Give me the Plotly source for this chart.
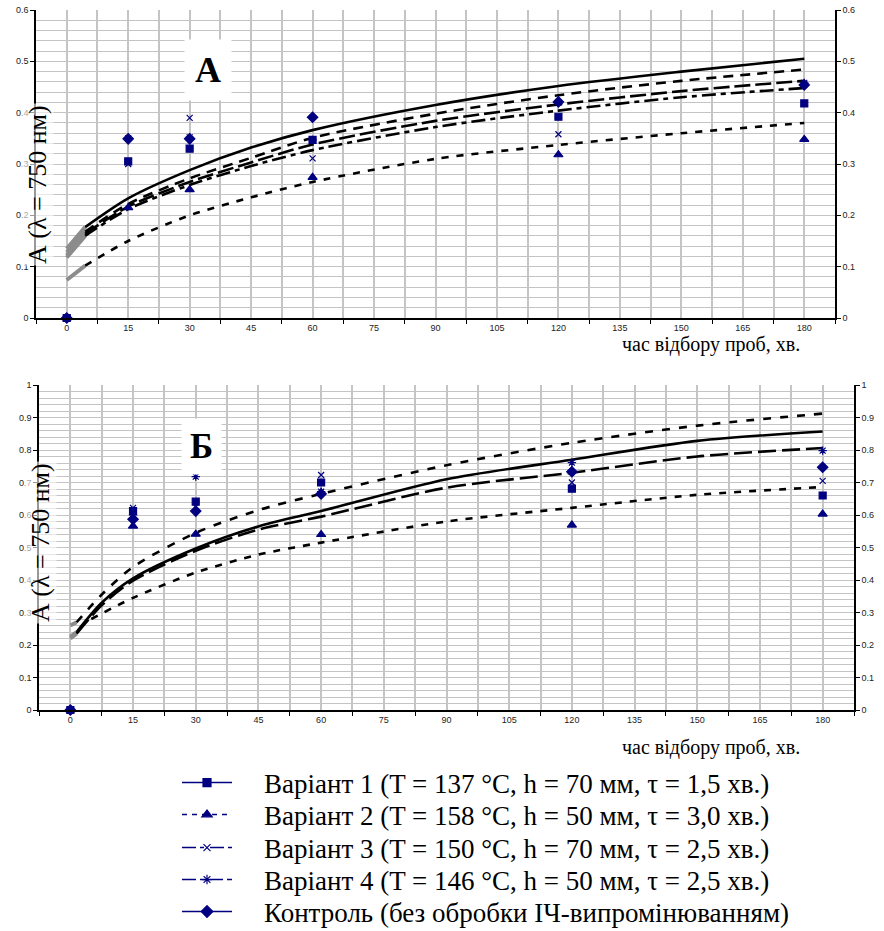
import plotly.graph_objects as go

# ---------------- data ----------------
T_SAMPLES = [0, 15, 30, 60, 120, 180]
X_TICKS = [0, 15, 30, 45, 60, 75, 90, 105, 120, 135, 150, 165, 180]

# Chart A measured points
A_V1 = [0, 0.305, 0.330, 0.347, 0.392, 0.418]
A_V2 = [0, 0.215, 0.250, 0.274, 0.318, 0.348]
A_V3 = [0, 0.300, 0.390, 0.311, 0.358, 0.455]
A_V4 = [0, 0.350, 0.352, 0.347, 0.420, 0.458]
A_CTRL = [0, 0.349, 0.349, 0.391, 0.421, 0.454]

# Chart A trend lines
A_FIT_T = [4.5, 15, 30, 45, 60, 90, 120, 150, 180]
A_FIT_CTRL = [0.177, 0.233, 0.288, 0.332, 0.366, 0.415, 0.452, 0.480, 0.505]
A_FIT_V4 = [0.168, 0.222, 0.272, 0.312, 0.351, 0.398, 0.434, 0.462, 0.484]
A_FIT_V1 = [0.164, 0.217, 0.265, 0.303, 0.338, 0.384, 0.416, 0.442, 0.462]
A_FIT_V3 = [0.160, 0.212, 0.259, 0.296, 0.327, 0.372, 0.404, 0.430, 0.448]
A_FIT_V2 = [0.102, 0.150, 0.200, 0.235, 0.265, 0.310, 0.337, 0.360, 0.380]
A_FIT_START = [0.135, 0.128, 0.122, 0.118, 0.074]  # values at t = 0 (grey part)

# Chart B measured points
B_V1 = [0, 0.612, 0.641, 0.700, 0.681, 0.660]
B_V2 = [0, 0.566, 0.541, 0.540, 0.569, 0.603]
B_V3 = [0, 0.622, 0.625, 0.723, 0.700, 0.705]
B_V4 = [0, 0.600, 0.718, 0.672, 0.761, 0.798]
B_CTRL = [0, 0.587, 0.612, 0.665, 0.733, 0.747]

# Chart B trend lines
B_FIT_T = [1.5, 7.5, 15, 30, 45, 60, 90, 120, 150, 180]
B_FIT_UP = [0.27, 0.355, 0.440, 0.545, 0.615, 0.665, 0.753, 0.822, 0.875, 0.912]
B_FIT_CTRL = [0.240, 0.330, 0.405, 0.497, 0.565, 0.612, 0.710, 0.770, 0.828, 0.857]
B_FIT_MID = [0.235, 0.322, 0.398, 0.490, 0.555, 0.595, 0.684, 0.730, 0.780, 0.806]
B_FIT_LOW_T = [5, 15, 30, 45, 60, 90, 120, 150, 180]
B_FIT_LOW = [0.280, 0.345, 0.423, 0.478, 0.515, 0.580, 0.622, 0.662, 0.686]
B_FIT_START = [0.26, 0.225, 0.22]

LEGEND_NAMES = [
    "Варіант 1 (T = 137 °C, h = 70 мм, τ = 1,5 хв.)",
    "Варіант 2 (T = 158 °C, h = 50 мм, τ = 3,0 хв.)",
    "Варіант 3 (T = 150 °C, h = 70 мм, τ = 2,5 хв.)",
    "Варіант 4 (T = 146 °C, h = 50 мм, τ = 2,5 хв.)",
    "Контроль (без обробки ІЧ-випромінюванням)",
]

# ---------------- styling ----------------
W, H = 884, 931
NAVY = "#000080"
GRID = "#c4c4c4"
SERIF = "Liberation Serif, Times New Roman, serif"
SANS = "Liberation Sans, Arial, sans-serif"

SYMBOLS = ["square", "triangle-up", "x-thin-open", "asterisk-open", "diamond"]
SIZES = [7, 8, 6, 7, 8]
LEG_DASH = ["solid", "5px,5px", "14px,4px,4px,6px", "14px,4px,5px,4px", "solid"]
LEG_ROWS = [783, 815, 848, 880, 912]  # legend row centres, px from top

fig = go.Figure()


def add_markers(vals_list, xa, ya):
    for vals, sym, sz in zip(vals_list, SYMBOLS, SIZES):
        fig.add_trace(go.Scatter(
            x=T_SAMPLES, y=vals, mode="markers", xaxis=xa, yaxis=ya,
            marker=dict(symbol=sym, size=sz, color=NAVY,
                        line=dict(color=NAVY, width=1.2)),
            cliponaxis=False, showlegend=False, hoverinfo="skip"))


def add_fit(t, vals, start, dash, xa, ya):
    fig.add_trace(go.Scatter(
        x=[0, t[0]], y=[start, vals[0]], mode="lines", xaxis=xa, yaxis=ya,
        line=dict(color="#8c8c8c", width=4), showlegend=False, hoverinfo="skip"))
    fig.add_trace(go.Scatter(
        x=t, y=vals, mode="lines", xaxis=xa, yaxis=ya,
        line=dict(color="black", width=2.6, dash=dash, shape="spline", smoothing=0.8),
        showlegend=False, hoverinfo="skip"))


# Chart A
add_fit(A_FIT_T, A_FIT_CTRL, A_FIT_START[0], "solid", "x", "y")
add_fit(A_FIT_T, A_FIT_V4, A_FIT_START[1], "10px,7px", "x", "y")
add_fit(A_FIT_T, A_FIT_V1, A_FIT_START[2], "16px,5px", "x", "y")
add_fit(A_FIT_T, A_FIT_V3, A_FIT_START[3], "14px,5px,5px,5px", "x", "y")
add_fit(A_FIT_T, A_FIT_V2, A_FIT_START[4], "7px,8px", "x", "y")
add_markers([A_V1, A_V2, A_V3, A_V4, A_CTRL], "x", "y")

# Chart B
add_fit(B_FIT_T, B_FIT_UP, B_FIT_START[0], "8px,9px", "x2", "y3")
add_fit(B_FIT_T, B_FIT_CTRL, B_FIT_START[1], "solid", "x2", "y3")
add_fit(B_FIT_T, B_FIT_MID, B_FIT_START[2], "18px,6px", "x2", "y3")
fig.add_trace(go.Scatter(
    x=B_FIT_LOW_T, y=B_FIT_LOW, mode="lines", xaxis="x2", yaxis="y3",
    line=dict(color="black", width=2.6, dash="7px,8px", shape="spline", smoothing=0.8),
    showlegend=False, hoverinfo="skip"))
add_markers([B_V1, B_V2, B_V3, B_V4, B_CTRL], "x2", "y3")

# dummy traces so right-hand axes get drawn
fig.add_trace(go.Scatter(x=[None], y=[None], xaxis="x", yaxis="y2", showlegend=False))
fig.add_trace(go.Scatter(x=[None], y=[None], xaxis="x2", yaxis="y4", showlegend=False))

# legend entries, one legend per row so rows sit exactly where the reference has them
leg_ids = ["legend", "legend2", "legend3", "legend4", "legend5"]
for i, name in enumerate(LEGEND_NAMES):
    fig.add_trace(go.Scatter(
        x=[None], y=[None], mode="lines+markers", name="\u00a0\u00a0\u00a0\u00a0" + name,
        legend=leg_ids[i],
        line=dict(color=NAVY, width=1.6, dash=LEG_DASH[i]),
        marker=dict(symbol=SYMBOLS[i], size=SIZES[i] + 1, color=NAVY,
                    line=dict(color=NAVY, width=1.2))))

# ---------------- axes ----------------
def px_x(a, b):
    return [a / W, b / W]


def px_y(top, bottom):
    return [1 - bottom / H, 1 - top / H]


between = [v + 7.5 for v in [-15] + X_TICKS]

xcommon = dict(
    range=[-7.5, 187.5], tickmode="array", tickvals=X_TICKS,
    ticktext=[str(v) for v in X_TICKS], ticks="", showgrid=True,
    gridcolor=GRID, gridwidth=2, zeroline=False, showline=True,
    linecolor="black", linewidth=1.5, automargin=False,
    tickfont=dict(family=SANS, size=9, color="#222"),
    minor=dict(tickmode="array", tickvals=between, ticks="outside", ticklen=4,
               tickcolor="black", showgrid=True, gridcolor=GRID, gridwidth=2),
)


def ycommon(rmax, side):
    return dict(
        range=[0, rmax], tick0=0, dtick=0.1, ticks="outside", ticklen=4,
        tickcolor="black", showline=True, linecolor="black", linewidth=1.5,
        zeroline=False, side=side, automargin=False,
        tickfont=dict(family=SANS, size=9, color="#222"),
    )


legend_layout = {}
for lid, row in zip(leg_ids, LEG_ROWS):
    legend_layout[lid] = dict(
        x=177 / W, y=1 - row / H, xanchor="left", yanchor="middle",
        font=dict(family=SERIF, size=27, color="black"),
        bgcolor="rgba(0,0,0,0)", itemwidth=50)

fig.update_layout(
    width=W, height=H, margin=dict(l=0, r=0, t=0, b=0, autoexpand=False),
    paper_bgcolor="white", plot_bgcolor="white",
    xaxis=dict(domain=px_x(36, 835), anchor="y", **xcommon),
    yaxis=dict(domain=px_y(10, 318), anchor="x", showgrid=True, gridcolor=GRID,
               gridwidth=1.3,
               minor=dict(dtick=0.02, showgrid=True, gridcolor=GRID, gridwidth=1.3),
               **ycommon(0.6, "left")),
    yaxis2=dict(overlaying="y", anchor="x", showgrid=False, **ycommon(0.6, "right")),
    xaxis2=dict(domain=px_x(39, 854), anchor="y3", **xcommon),
    yaxis3=dict(domain=px_y(385, 710), anchor="x2", showgrid=True, gridcolor=GRID,
                gridwidth=1.3,
                minor=dict(dtick=0.02, showgrid=True, gridcolor=GRID, gridwidth=1.3),
                **ycommon(1.0, "left")),
    yaxis4=dict(overlaying="y3", anchor="x2", showgrid=False, **ycommon(1.0, "right")),
    showlegend=True,
    **legend_layout,
)

# ---------------- text ----------------
ann = []
ytitle = "А (λ = 750 нм)"
ann.append(dict(text=ytitle, x=38 / W, y=1 - 185 / H, xref="paper", yref="paper",
                textangle=-90, showarrow=False, xanchor="center", yanchor="middle",
                font=dict(family=SERIF, size=26, color="black"),
                bgcolor="rgba(255,255,255,0.6)"))
ann.append(dict(text=ytitle, x=40 / W, y=1 - 543 / H, xref="paper", yref="paper",
                textangle=-90, showarrow=False, xanchor="center", yanchor="middle",
                font=dict(family=SERIF, size=26, color="black"),
                bgcolor="rgba(255,255,255,0.6)"))
xtitle = "час відбору проб, хв."
ann.append(dict(text=xtitle, x=802 / W, y=1 - 344 / H, xref="paper", yref="paper",
                showarrow=False, xanchor="right", yanchor="middle",
                font=dict(family=SERIF, size=20, color="black")))
ann.append(dict(text=xtitle, x=802 / W, y=1 - 747 / H, xref="paper", yref="paper",
                showarrow=False, xanchor="right", yanchor="middle",
                font=dict(family=SERIF, size=20, color="black")))
ann.append(dict(text="<b>А</b>", x=208 / W, y=1 - 70 / H, xref="paper", yref="paper",
                showarrow=False, xanchor="center", yanchor="middle",
                font=dict(family=SERIF, size=36, color="black"),
                bgcolor="white", borderpad=10))
ann.append(dict(text="<b>Б</b>", x=201 / W, y=1 - 446 / H, xref="paper", yref="paper",
                showarrow=False, xanchor="center", yanchor="middle",
                font=dict(family=SERIF, size=35, color="black"),
                bgcolor="white", borderpad=8))
fig.update_layout(annotations=ann)

fig.write_html("out.html", config={"displayModeBar": False},
               post_script="document.body.style.margin='0';")
